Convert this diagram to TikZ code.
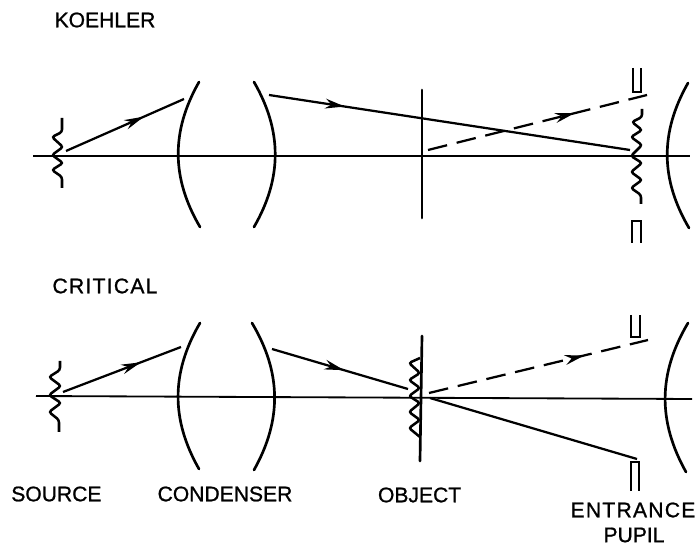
\documentclass[tikz,border=0pt]{standalone}
\usepackage{fontspec}
\setmainfont{Liberation Sans}[FakeBold=1]
\usetikzlibrary{arrows.meta,decorations.markings}
\tikzset{
  lbl/.style={font=\fontsize{15}{18}\selectfont,text=black,inner sep=0pt},
  widelbl/.style={font=\fontsize{15}{18}\selectfont\addfontfeature{LetterSpace=6},text=black,inner sep=0pt},
  axis/.style={line width=1.3pt},
  lens/.style={line width=1.9pt,line cap=round},
  ray/.style={line width=1.6pt},
  dashray/.style={line width=1.6pt,dash pattern=on 14pt off 7pt},
  wave/.style={line width=1.8pt,rounded corners=1.8pt},
  stopper/.style={line width=1.8pt},
  tip/.style={postaction={decorate,decoration={markings,mark=at position #1 with {\arrow{Stealth[length=14pt,width=7pt]}}}}}
}
\begin{document}
\begin{tikzpicture}
  \useasboundingbox (0,0) rectangle (17.375,13.65);

  \node[lbl] (koehler) at (2.625,13.15) {KOEHLER};
  \node[widelbl] (critical) at (2.625,6.5) {CRITICAL};
  \node[lbl] (source) at (1.41,1.3) {SOURCE};
  \node[lbl] (condenser) at (5.625,1.3) {CONDENSER};
  \node[lbl] (objectlbl) at (10.49,1.275) {OBJECT};
  \node[widelbl] (entrance) at (15.825,0.9) {ENTRANCE};
  \node[lbl] (pupil) at (15.85,0.275) {PUPIL};

  % upper system
  \begin{scope}
    \coordinate (kaxisa) at (0.825,9.75);
    \coordinate (kaxisb) at (17.25,9.75);
    \draw[axis] (kaxisa) -- (kaxisb);
    \draw[wave] (1.55,10.7) -- (1.55,10.35) -- (1.3,10.225) -- (1.575,9.975) -- (1.3,9.775) -- (1.575,9.575) -- (1.3,9.4) -- (1.55,9.225) -- (1.55,8.95);
    \draw[lens] (4.975,11.6) to[bend right=30] (5,7.975);
    \draw[lens] (6.35,11.6) to[bend left=30] (6.35,7.975);
    \draw[lens] (10.55,11.4) -- (10.55,8.2);
    \draw[lens] (17.2,11.575) to[bend right=30] (17.225,7.95);
    \coordinate (kraya) at (1.65,9.875);
    \coordinate (krayb) at (4.6,11.175);
    \coordinate (krayc) at (6.725,11.275);
    \coordinate (krayd) at (15.75,9.9);
    \coordinate (kdasha) at (10.7,9.9);
    \coordinate (kdashb) at (16.175,11.275);
    \draw[ray,tip=0.66] (kraya) -- (krayb);
    \draw[ray,tip=0.21] (krayc) -- (krayd);
    \draw[dashray,tip=0.67] (kdasha) -- (kdashb);
    \draw[wave] (16.05,10.925) -- (16.05,10.725) -- (15.8,10.6) -- (16.05,10.4) -- (15.775,10.225) -- (16.05,10.025) -- (15.775,9.75) -- (16.05,9.575) -- (15.775,9.35) -- (16.05,9.15) -- (15.775,8.95) -- (16.025,8.775) -- (16.025,8.55);
    \draw[stopper] (15.825,11.95) -- (15.825,11.35) -- (16.025,11.35) -- (16.025,11.95);
    \draw[stopper] (15.8,7.575) -- (15.8,8.125) -- (16.025,8.125) -- (16.025,7.575);
  \end{scope}

  % lower system
  \begin{scope}[yshift=-6cm]
    \coordinate (caxisa) at (0.9,9.75);
    \coordinate (caxisb) at (17.3,9.675);
    \draw[axis] (caxisa) -- (caxisb);
    \draw[wave] (1.5,10.625) -- (1.5,10.4) -- (1.225,10.225) -- (1.525,10) -- (1.225,9.775) -- (1.525,9.575) -- (1.225,9.35) -- (1.475,9.15) -- (1.475,8.85);
    \draw[lens] (5,11.575) to[bend right=30] (4.975,7.925);
    \draw[lens] (6.3,11.575) to[bend left=30] (6.35,7.9);
    \draw[lens] (10.55,11.25) -- (10.5,8.125);
    \draw[lens] (17.2,11.575) to[bend right=30] (17.15,7.85);
    \coordinate (craya) at (1.575,9.85);
    \coordinate (crayb) at (4.525,10.975);
    \coordinate (crayc) at (6.8,10.925);
    \coordinate (crayd) at (10.2,9.925);
    \coordinate (crayl) at (10.75,9.7);
    \coordinate (craym) at (15.925,8.175);
    \coordinate (cdasha) at (10.725,9.825);
    \coordinate (cdashb) at (16.2,11.15);
    \draw[ray,tip=0.66] (craya) -- (crayb);
    \draw[ray,tip=0.53] (crayc) -- (crayd);
    \draw[dashray,tip=0.71] (cdasha) -- (cdashb);
    \draw[ray] (crayl) -- (craym);
    \draw[wave] (10.5,10.7) -- (10.225,10.575) -- (10.5,10.325) -- (10.225,10.15) -- (10.5,9.95) -- (10.225,9.75) -- (10.5,9.575) -- (10.225,9.35) -- (10.5,9.15) -- (10.225,8.95) -- (10.5,8.725);
    \draw[stopper] (15.775,11.775) -- (15.775,11.225) -- (16,11.225) -- (16,11.775);
    \draw[stopper] (15.775,7.375) -- (15.775,8.1) -- (15.975,8.1) -- (15.975,7.375);
  \end{scope}
\end{tikzpicture}
\end{document}
